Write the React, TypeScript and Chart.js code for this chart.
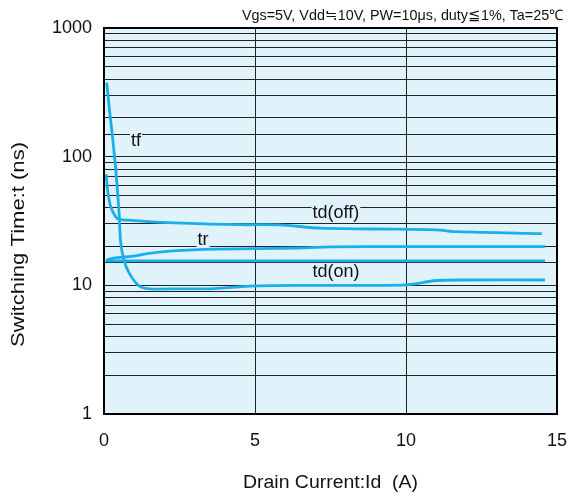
import React, { useEffect, useRef } from "react";
import { Chart, registerables } from "chart.js";
Chart.register(...registerables);

const title = "Vgs=5V, Vdd≒10V, PW=10μs, duty≦1%, Ta=25℃";
const xTitle = "Drain Current:Id  (A)";
const yTitle = "Switching Time:t (ns)";
const xTicks = [0, 5, 10, 15];
const yTicks = [1, 10, 100, 1000];

const tfX = [0.09, 0.17, 0.28, 0.39, 0.5, 0.55, 0.66, 0.83, 1.16, 1.5, 2.5, 3.5, 5, 7, 10, 11, 12, 14.6];
const tfY = [376, 245, 143, 79, 36.5, 21.9, 15.7, 12.5, 9.9, 9.4, 9.4, 9.4, 9.9, 10, 10.1, 10.9, 11, 11];
const tdoffX = [0.07, 0.12, 0.22, 0.39, 0.5, 0.93, 1.7, 2.6, 4.5, 5.8, 7.2, 9.7, 11.0, 11.7, 14.5];
const tdoffY = [73, 55, 41, 34, 32.6, 32, 31, 30.4, 29.6, 29.5, 27.8, 27.3, 27, 26.1, 25.2];
const trX = [0.08, 0.33, 0.93, 1.49, 2.27, 3.7, 6.5, 7.5, 10, 14.6];
const trY = [15.7, 16.3, 16.8, 17.7, 18.5, 19.1, 19.5, 19.9, 20, 20];
const tdonX = [0.05, 2, 5, 8, 11, 14.6];
const tdonY = [15.5, 15.5, 15.5, 15.5, 15.5, 15.5];

const labelNames = ["tf", "tr", "td(off)", "td(on)"];
const labelX = [1.06, 3.28, 7.68, 7.68];
const labelY = [132, 22.5, 36.5, 12.6];

const pts = (xs: number[], ys: number[]) => xs.map((x, i) => ({ x, y: ys[i] }));

const FONT = "'Liberation Sans', Arial, sans-serif";
const BG = "#e1f3fa";
const LINE = "#1aaeea";

function stretchText(ctx: CanvasRenderingContext2D, text: string, cx: number, cy: number, width: number) {
  const w = ctx.measureText(text).width;
  ctx.save();
  ctx.translate(cx, cy);
  ctx.scale(width / w, 1);
  ctx.textAlign = "center";
  ctx.textBaseline = "middle";
  ctx.fillText(text, 0, 0);
  ctx.restore();
}

export default function App() {
  const ref = useRef<HTMLCanvasElement | null>(null);
  useEffect(() => {
    if (!ref.current) return;
    const deco = {
      id: "deco",
      beforeDraw(chart: any) {
        const { ctx, chartArea: a } = chart;
        ctx.save();
        ctx.fillStyle = BG;
        ctx.fillRect(a.left, a.top, a.right - a.left, a.bottom - a.top);
        ctx.restore();
      },
      beforeDatasetsDraw(chart: any) {
        const { ctx } = chart;
        const xs = chart.scales.x, ys = chart.scales.y;
        ctx.save();
        ctx.font = `18px ${FONT}`;
        ctx.textAlign = "center";
        ctx.textBaseline = "middle";
        labelNames.forEach((t, i) => {
          const px = xs.getPixelForValue(labelX[i]);
          const py = ys.getPixelForValue(labelY[i]);
          const w = ctx.measureText(t).width;
          ctx.fillStyle = BG;
          ctx.fillRect(px - w / 2 - 1, py - 8, w + 2, 15);
          ctx.fillStyle = "#111";
          ctx.fillText(t, px, py);
        });
        ctx.restore();
      },
      afterDraw(chart: any) {
        const { ctx, chartArea: a } = chart;
        ctx.save();
        ctx.strokeStyle = "#000";
        ctx.lineWidth = 2;
        ctx.strokeRect(a.left, a.top, a.right - a.left, a.bottom - a.top);
        ctx.fillStyle = "#111";
        ctx.font = `14.5px ${FONT}`;
        stretchText(ctx, title, 402.5, 15.5, 321);
        ctx.font = `18px ${FONT}`;
        stretchText(ctx, xTitle, (a.left + a.right) / 2, 483, 175);
        ctx.translate(19, 244.5);
        ctx.rotate(-Math.PI / 2);
        stretchText(ctx, yTitle, 0, 0, 205);
        ctx.restore();
      },
    };
    const ds = (data: any[]) => ({
      data,
      borderColor: LINE,
      borderWidth: 2.8,
      pointRadius: 0,
      fill: false,
      tension: 0.3,
    });
    const chart = new Chart(ref.current, {
      type: "line",
      data: {
        datasets: [
          ds(pts(tfX, tfY)),
          ds(pts(tdoffX, tdoffY)),
          ds(pts(trX, trY)),
          ds(pts(tdonX, tdonY)),
        ],
      },
      options: {
        animation: false,
        responsive: false,
        layout: { padding: { top: 28, right: 15, left: 0, bottom: 0 } },
        plugins: { legend: { display: false }, tooltip: { enabled: false } },
        scales: {
          x: {
            type: "linear",
            min: 0,
            max: 15,
            afterFit(s: any) { s.height = 87; s.paddingRight = 0; s.paddingLeft = 0; },
            afterBuildTicks(s: any) { s.ticks = xTicks.map((v) => ({ value: v })); },
            grid: { color: "#222", lineWidth: 1, drawTicks: false },
            border: { display: false },
            ticks: { padding: 16, color: "#111", font: { family: FONT, size: 18 } },
          },
          y: {
            type: "logarithmic",
            min: 1,
            max: 1000,
            afterFit(s: any) { s.width = 104; s.paddingTop = 0; s.paddingBottom = 0; },
            grid: { color: "#222", lineWidth: 1, drawTicks: false },
            border: { display: false },
            ticks: {
              autoSkip: false,
              padding: 12,
              color: "#111",
              font: { family: FONT, size: 18 },
              callback: (v: any) => (yTicks.includes(Number(v)) ? String(v) : ""),
            },
          },
        },
      },
      plugins: [deco],
    });
    return () => chart.destroy();
  }, []);
  return (
    <div style={{ position: "fixed", left: 0, top: 0, width: 572, height: 501, background: "#fff" }}>
      <canvas ref={ref} width={572} height={501} />
    </div>
  );
}
